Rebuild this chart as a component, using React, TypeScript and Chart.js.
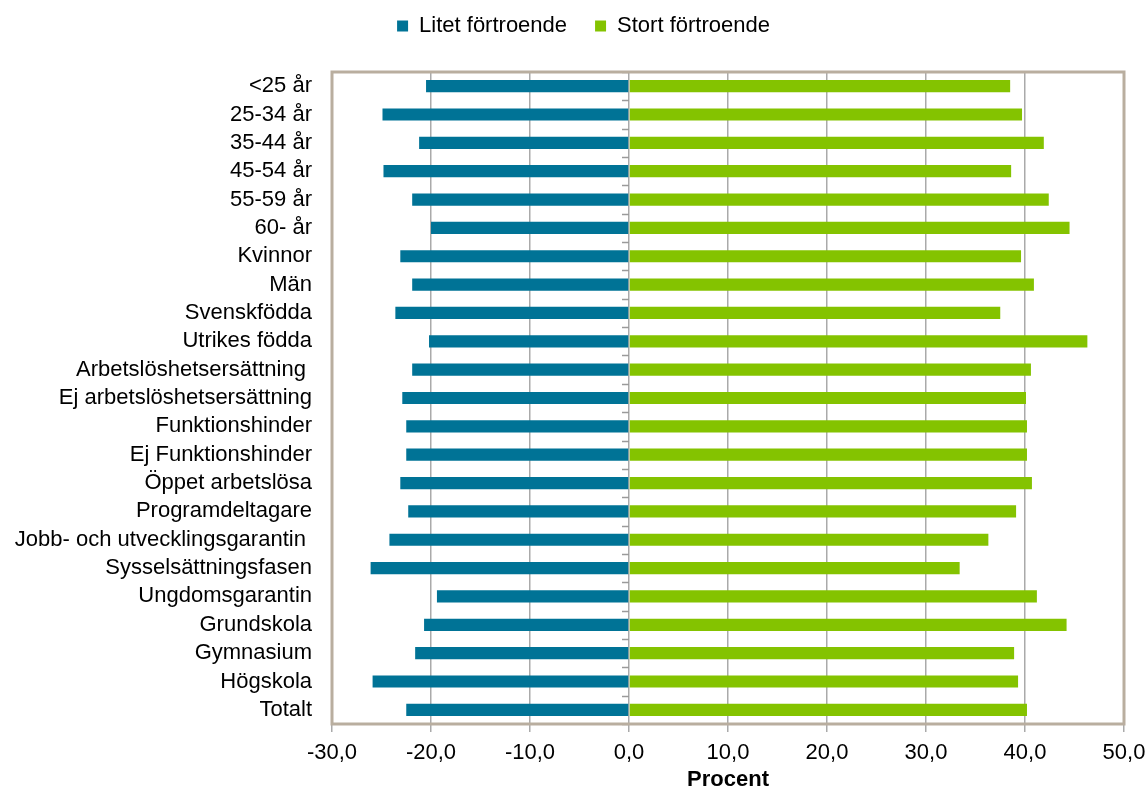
import React, { useEffect, useRef } from "react";
import { Chart, registerables } from "chart.js";

Chart.register(...registerables);

const categories = [
  "<25 år",
  "25-34 år",
  "35-44 år",
  "45-54 år",
  "55-59 år",
  "60- år",
  "Kvinnor",
  "Män",
  "Svenskfödda",
  "Utrikes födda",
  "Arbetslöshetsersättning ",
  "Ej arbetslöshetsersättning",
  "Funktionshinder",
  "Ej Funktionshinder",
  "Öppet arbetslösa",
  "Programdeltagare",
  "Jobb- och utvecklingsgarantin ",
  "Sysselsättningsfasen",
  "Ungdomsgarantin",
  "Grundskola",
  "Gymnasium",
  "Högskola",
  "Totalt",
];

const litetFortroende = [
  -20.5, -24.9, -21.2, -24.8, -21.9, -20.0, -23.1, -21.9, -23.6, -20.2, -21.9,
  -22.9, -22.5, -22.5, -23.1, -22.3, -24.2, -26.1, -19.4, -20.7, -21.6, -25.9,
  -22.5,
];

const stortFortroende = [
  38.5, 39.7, 41.9, 38.6, 42.4, 44.5, 39.6, 40.9, 37.5, 46.3, 40.6, 40.1, 40.2,
  40.2, 40.7, 39.1, 36.3, 33.4, 41.2, 44.2, 38.9, 39.3, 40.2,
];

const seriesNames = ["Litet förtroende", "Stort förtroende"];
const xMin = -30;
const xMax = 50;
const xStep = 10;
const xTitle = "Procent";

const FONT = "'Liberation Sans', Arial, sans-serif";
const FS = 22;

const legendTweaks = {
  id: "legendTweaks",
  beforeInit(chart: any) {
    const legend = chart.legend;
    if (!legend) return;
    const origFit = legend.fit;
    legend.fit = function () {
      origFit.call(this);
      this.height = 85;
    };
    const origDraw = legend.draw;
    legend.draw = function (...args: any[]) {
      const ctx = this.ctx;
      ctx.save();
      ctx.translate(10, 0);
      origDraw.apply(this, args);
      ctx.restore();
    };
  },
};

const frameAndTicks = {
  id: "frameAndTicks",
  afterDatasetsDraw(chart: any) {
    const { ctx, chartArea, scales } = chart;
    const x0 = scales.x.getPixelForValue(0);
    const n = categories.length;
    const step = scales.y.getPixelForValue(1) - scales.y.getPixelForValue(0);
    ctx.save();
    ctx.strokeStyle = "#9a9a9a";
    ctx.lineWidth = 1.5;
    for (let i = 0; i <= n; i++) {
      const y = scales.y.getPixelForValue(0) - step / 2 + i * step;
      ctx.beginPath();
      ctx.moveTo(x0 - 7, Math.round(y) + 0.5);
      ctx.lineTo(x0, Math.round(y) + 0.5);
      ctx.stroke();
    }
    ctx.strokeStyle = "#b9ae9f";
    ctx.lineWidth = 3;
    ctx.strokeRect(
      chartArea.left,
      chartArea.top,
      chartArea.right - chartArea.left,
      chartArea.bottom - chartArea.top
    );
    ctx.restore();
  },
};

export default function App() {
  const ref = useRef<HTMLCanvasElement | null>(null);

  useEffect(() => {
    if (!ref.current) return;
    const chart = new Chart(ref.current, {
      type: "bar",
      data: {
        labels: categories,
        datasets: [
          {
            label: seriesNames[0],
            data: litetFortroende,
            backgroundColor: "#007396",
            borderWidth: 0,
            barPercentage: 0.43,
            categoryPercentage: 1,
          },
          {
            label: seriesNames[1],
            data: stortFortroende,
            backgroundColor: "#84c300",
            borderWidth: 0,
            barPercentage: 0.43,
            categoryPercentage: 1,
          },
        ],
      },
      options: {
        indexAxis: "y",
        responsive: false,
        maintainAspectRatio: false,
        animation: false,
        layout: { padding: { top: -13, right: 0, left: 0, bottom: 0 } },
        plugins: {
          tooltip: { enabled: false },
          legend: {
            position: "top",
            labels: {
              boxWidth: 11,
              boxHeight: 11,
              padding: 28,
              color: "#000",
              font: { family: FONT, size: FS },
            },
          },
        },
        scales: {
          x: {
            stacked: true,
            min: xMin,
            max: xMax,
            ticks: {
              stepSize: xStep,
              color: "#000",
              padding: 8,
              font: { family: FONT, size: FS },
              callback: (v: any) => Number(v).toFixed(1).replace(".", ","),
            },
            grid: {
              color: "#aaaaaa",
              lineWidth: 1.5,
              tickLength: 8,
              drawTicks: true,
            },
            border: { display: false },
            title: {
              display: true,
              text: xTitle,
              color: "#000",
              padding: { top: 0, bottom: 0 },
              font: { family: FONT, size: FS, weight: "bold", lineHeight: 1.05 },
            },
            afterFit: (scale: any) => {
              scale.height = 67;
              scale.paddingRight = 23;
              scale.paddingLeft = 0;
            },
          },
          y: {
            stacked: true,
            ticks: {
              color: "#000",
              padding: 20,
              autoSkip: false,
              font: { family: FONT, size: FS },
            },
            grid: { display: false, drawTicks: false },
            border: { display: false },
            afterFit: (scale: any) => {
              scale.width = 332;
            },
          },
        },
      },
      plugins: [legendTweaks, frameAndTicks],
    } as any);
    return () => chart.destroy();
  }, []);

  return (
    <div style={{ position: "absolute", left: 0, top: 0, width: 1147, height: 791, background: "#fff" }}>
      <canvas ref={ref} width={1147} height={791} style={{ display: "block" }} />
    </div>
  );
}
